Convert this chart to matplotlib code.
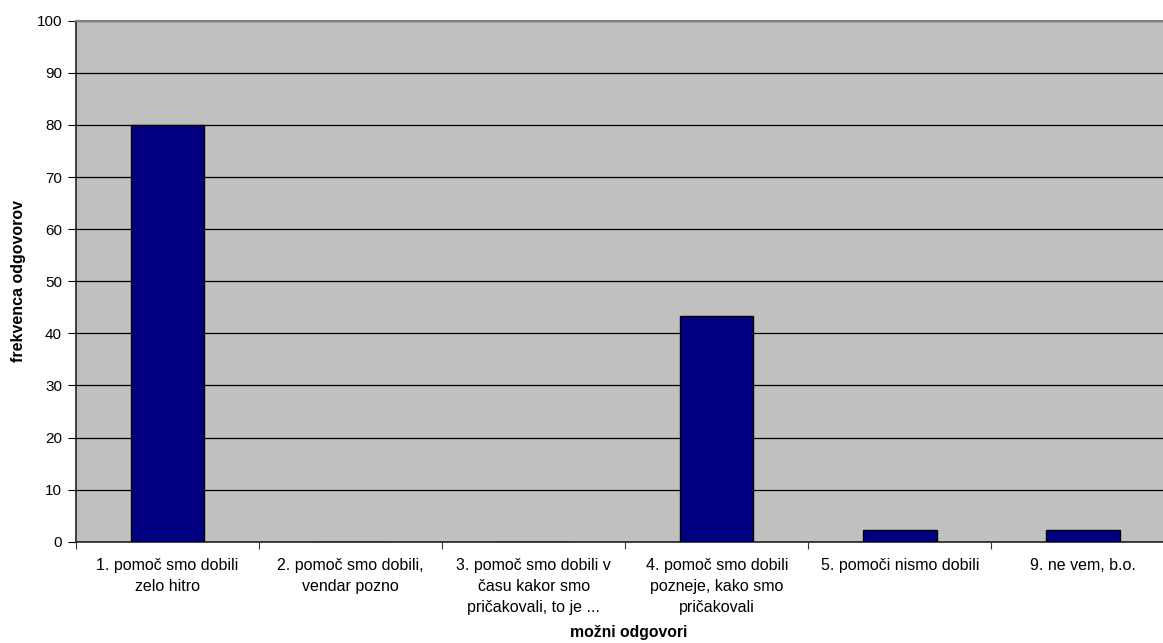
import matplotlib
matplotlib.use("Agg")
import matplotlib.pyplot as plt
import numpy as np

categories = [
    "1. pomoč smo dobili\nzelo hitro",
    "2. pomoč smo dobili,\nvendar pozno",
    "3. pomoč smo dobili v\nčasu kakor smo\npričakovali, to je ...",
    "4. pomoč smo dobili\npozneje, kako smo\npričakovali",
    "5. pomoči nismo dobili",
    "9. ne vem, b.o.",
]
values = [80, 0, 0, 43.4, 2.2, 2.2]
yticks = [0, 10, 20, 30, 40, 50, 60, 70, 80, 90, 100]

plt.rcParams['font.family'] = ['Liberation Sans', 'DejaVu Sans']

W, H = 1163, 643
fig = plt.figure(figsize=(W / 100, H / 100), dpi=100)
left, right, bottom, top = 76, 1174.6, 541.7, 20.7
ax = fig.add_axes([left / W, (H - bottom) / H, (right - left) / W, (bottom - top) / H])
ax.set_facecolor('#C0C0C0')

x = np.arange(len(categories))
ax.bar(x, values, width=0.4, color='#000080', edgecolor='black', linewidth=1.0, zorder=3)

ax.set_xlim(-0.5, len(categories) - 0.5)
ax.set_ylim(0, 100)
ax.set_yticks(yticks)
ax.set_yticklabels([str(v) for v in yticks], fontsize=11)
ax.yaxis.grid(True, color='black', linewidth=0.9, zorder=1)
ax.set_axisbelow(True)

# category ticks at boundaries, labels centered
ax.set_xticks(np.arange(len(categories) + 1) - 0.5)
ax.set_xticklabels([])
ax.set_xticks(x, minor=True)
ax.set_xticklabels(categories, minor=True, fontsize=11.5, linespacing=1.5, va='top')
ax.tick_params(axis='x', which='minor', length=0, pad=12)
ax.tick_params(axis='x', which='major', length=5, direction='out', color='#333333')
ax.tick_params(axis='y', length=6, direction='out', pad=4)

for s in ['left', 'bottom']:
    ax.spines[s].set_color('#222222')
    ax.spines[s].set_linewidth(1.2)
ax.spines['top'].set_color('#808080')
ax.spines['top'].set_linewidth(1.5)
ax.spines['right'].set_color('#808080')

fig.text(629 / W, 1 - 632 / H, 'možni odgovori', ha='center', va='center',
         fontsize=11.3, fontweight='bold')
fig.text(19 / W, 1 - 281 / H, 'frekvenca odgovorov', ha='center', va='center',
         rotation=90, fontsize=11.5, fontweight='bold')

fig.savefig('out.png', dpi=100, facecolor='white')
